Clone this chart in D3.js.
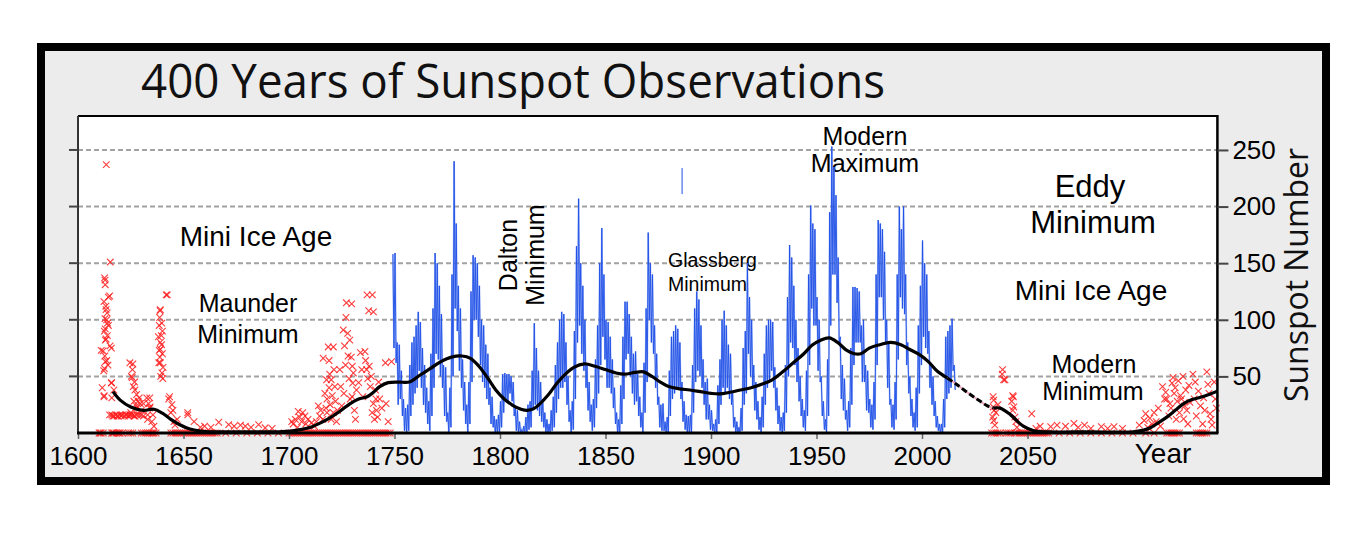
<!DOCTYPE html>
<html><head><meta charset="utf-8">
<script src="https://cdn.jsdelivr.net/npm/d3@7/dist/d3.min.js"></script>
<style>html,body{margin:0;padding:0;background:#fff;}svg{display:block;}</style>
</head><body>
<svg id="c" width="1370" height="533"></svg>
<script>
// ---------------- DATA ----------------
const xTicks = [1600,1650,1700,1750,1800,1850,1900,1950,2000,2050];
const yTicks = [50,100,150,200,250];

// Monthly sunspot record (blue) summarised per year: high and low monthly excursions, 1749-2015
const blueStartYear = 1749;
const blueHigh = [
158,159,80,78,55,30,22,25,60,80,
85,95,107,98,75,60,40,28,70,110,
159,150,130,105,60,58,18,40,140,240,
185,130,110,65,45,25,45,125,157,155,
150,130,100,95,78,70,40,32,15,12,
16,28,52,53,52,52,50,45,22,20,
10,3,6,14,25,28,55,97,75,55,
45,30,18,12,8,20,32,60,80,100,
107,105,80,50,20,28,90,165,207,150,
130,100,60,45,25,30,65,95,150,181,
140,100,98,85,65,40,18,12,42,85,
116,116,105,85,70,72,52,32,18,62,
110,177,150,140,95,70,32,25,26,10,
14,55,85,90,95,92,80,45,28,16,
15,16,60,110,125,118,95,65,45,48,
25,20,8,12,42,65,100,108,95,78,
70,35,14,10,5,22,75,90,150,120,
100,60,45,28,14,32,70,95,100,100,
98,58,40,24,14,18,60,120,166,155,
130,100,75,50,30,20,55,140,201,185,
180,120,100,50,28,12,65,195,253,235,
210,155,85,60,48,20,28,75,129,129,
128,125,95,100,60,55,30,25,45,140,
188,185,180,160,100,80,30,25,45,140,
200,180,200,140,80,50,30,18,40,95,
130,170,150,140,90,60,50,28,15,8,
8,30,85,90,95,101,60];
const blueLow = [
75,62,25,30,15,2,0,2,15,25,
35,40,55,40,25,18,8,2,15,40,
70,65,50,40,15,10,0,5,50,110,
90,55,40,20,8,0,8,45,100,100,
85,60,45,40,30,25,8,5,0,0,
0,5,18,30,28,35,28,15,2,0,
0,0,0,0,3,5,20,25,20,15,
10,5,0,0,0,2,5,18,30,40,
40,45,25,10,0,3,30,80,95,70,
55,40,20,10,2,5,22,35,60,85,
65,40,40,35,22,8,0,0,8,30,
65,70,50,35,25,28,15,5,0,18,
45,100,80,70,40,25,5,2,2,0,
0,15,30,35,40,40,30,10,3,0,
0,0,18,45,55,50,40,25,12,12,
3,2,0,0,8,25,40,35,40,30,
25,5,0,0,0,2,25,35,70,50,
40,20,12,3,0,5,25,40,45,55,
40,20,8,2,0,2,18,50,80,75,
60,45,28,15,5,2,15,60,110,95,
95,55,45,15,3,0,15,95,140,140,
115,80,30,20,12,2,5,25,60,80,
80,80,45,45,20,18,5,3,12,60,
120,120,100,80,40,25,5,3,12,65,
120,110,105,60,35,15,5,2,5,35,
60,85,75,70,40,25,15,5,2,0,
0,5,30,35,40,55,38];
// isolated stray blue segment near 1886
const strayYears = [1886.3];
const strayHigh = [234];
const strayLow = [211];

// Smoothed black curve
const smoothYears = [1616.6,1620,1625,1631,1636,1640,1644,1648,1653,1659,1670,1680,1690,1697,1704,1711,1715,1719,1724,1729,1733,1737,1740,1743,1747,1752,1757,1762,1767,1772,1777,1782,1786,1790,1794,1798,1802,1806,1810,1813,1816,1819,1823,1827,1831,1835,1840,1845,1850,1855,1859,1864,1868,1872,1876,1880,1885,1890,1895,1900,1904,1909,1914,1919,1924,1929,1934,1939,1944,1948,1952,1956,1960,1964,1968,1971,1975,1980,1985,1990,1994,1999,2003,2007,2012,2016,2021,2026,2031,2034,2037,2042,2048,2053,2060,2080,2100,2105,2108,2112,2116,2120,2124,2128,2132,2136,2140];
const smoothValues = [36.5,29,23,20,21,17.5,12,7.5,3.5,1.5,1,1,1,1.2,2.6,5.6,9,13,19,26,30,32,36,41,44.5,45,45,51,57,63,67,68,66,59,49,38,30,24.5,21,20,21.5,26,34,44,52,58,61,59,56,53,52,53.5,54,50,45,41,39,38,36.5,35,34.5,36,38,40,43,47,54,62,70,77.7,82,84,80,73.5,70,70,75,78,80,78,74,69,63,55,48.6,43.5,36.5,30,24,22,22,16,6,2,1,1,1,2.5,4.4,9,14,20,26,29.5,31.5,34,37];
const dashStart = 2012, dashEnd = 2034;

// Red crosses: reconstructed group sunspot observations (historic) [year, value]
const histCrosses = [
[1613.4,237],[1615.3,151],[1612.8,135],[1612.6,137],[1612.9,131],[1615,121],[1614.4,120],[1612.3,116],[1613.3,109],[1613.2,112],
[1613.6,100],[1612.8,101],[1614.4,95],[1614,97],[1612.5,90],[1613.3,83],[1613,82],[1615.2,77],[1615.8,75],[1611.9,72.5],
[1611,73],[1613.6,64],[1613,63],[1612.5,57],[1612.2,55],[1615.9,44.5],[1615.8,44],[1612.4,33],[1612.3,32],[1616,31],
[1613.8,106],[1612.9,92],[1613.9,86],[1612.7,68],[1614.2,60],[1611.5,40],[1617,38],
[1615,16],[1616,16],[1617,15],[1618,16],[1619,15],[1620,16],[1621,16],[1622,15],[1623,16],[1624,15],[1625,16],[1626,16],
[1627,15],[1628,16],[1629,16],[1630,16],[1631,15],[1633,16],[1616.5,15],[1618.5,15],[1620.5,15],[1622.5,16],[1624.5,16],[1626.5,15],
[1624.6,62],[1626,61],[1625.3,50],[1625.7,49],[1626.2,41],[1627,38],[1627.8,34],[1629,31],[1627.6,24],[1629.5,26],[1625,18],[1626.5,28],[1628,22],
[1625.8,56],[1626.8,45],[1628.5,28],[1630,20],[1631,26],
[1632.6,31],[1634,31],[1634.2,23],[1634,22],[1635,10],[1633,12],[1636,6],[1633.5,26],[1635.5,16],
[1638.9,108],[1639,109],[1639.7,97],[1638.5,95],[1638.1,85],[1639.5,86],[1639,74],[1638.5,73],[1640,70],[1639,62],[1638.3,62],
[1639.8,53],[1639.2,50],[1640.2,48],[1639,80],[1640,90],[1641.8,122],[1642.3,122],[1638.7,102],[1639.6,78],[1638.8,67],[1640.3,58],
[1643.4,32],[1643,30],[1645,20],[1644,18],[1645.5,10],[1646,7],[1644.5,25],[1647,12],
[1652,18],[1652,16],[1655,10],[1658,5],[1660,6],[1663,5],[1666.7,9.5],[1671.4,7.4],[1674,6],[1677,7],[1679.3,6],[1682,5],[1685.6,7.4],[1688.7,4.6],[1692,4],
[1701.3,10],[1702,8],[1703,12],[1704.4,19],[1705,14],[1706,10],[1707.6,15],[1708,8],[1709,12],[1710.7,9],[1712,6],[1713,10],[1704,5],[1706.5,18],
[1713.9,24],[1714.5,15],[1715,20],[1716.2,66],[1717,35],[1717.8,47],[1718.6,76],[1718,30],[1719,40],[1719.5,25],[1720,47],[1720.5,33],
[1721,18],[1721.7,41],[1722,28],[1716,12],[1718,18],[1720,12],[1722.5,10],[1719,64],[1721,76],[1717.5,22],[1719.3,52],[1721.3,56],[1723,20],
[1724.1,56],[1724.5,41],[1725.7,91],[1725,24],[1726,35],[1726.3,77],[1727.2,115],[1727,102],[1727.8,88],[1728,68],[1728.5,48],[1729,30],
[1729.7,114],[1729.5,67],[1730,59],[1729.9,32],[1731,20],[1731.5,12],[1730.5,53],[1732,38],[1726.8,60],[1728.8,82],[1730.2,44],
[1733,44.5],[1733.9,71],[1734.5,56],[1735,32],[1736,72],[1736.8,56],[1737,122],[1737.8,108],[1738,59],[1738.5,41],[1739.4,18],[1739.5,122],
[1740,107],[1740,26],[1740.5,12],[1741,38],[1741.5,20],[1742,14],[1743,30],[1744,22],[1745.7,62],[1746,26],[1747,10],[1748.6,63],[1742.5,45],
[1736.3,64],[1737.3,48],[1739,50],[1741.2,30]];
const histZeroYears = [1610,1610.5,1611,1612,1616,1616.5,1617,1618,1619,1619.5,1620,1621,1624,1625,1626,1630,1631,1632,1633,1634,1635,1635.5,1636,1637,
1644,1645,1646,1647,1648,1649,1650,1651,1652,1653,1654,1655,1656,1657,1658,1659,1660,1661,1662,1663,1664,1665,1666,
1670,1675,1680,1685,1690,1695,1700,1701,1702,1703,1704,1705,1706,1707,1708,1709,1710,1711,1712,1713,1714,1715,1716,1717,1718,1719,1720,
1721,1722,1723,1724,1725,1726,1727,1728,1729,1730,1731,1732,1733,1734,1735,1736,1737,1738,1739,1740,1741,1742,1743,1744,1745,1746,1747,1748];

// Red crosses: projected future record [year, value]
const futureCrosses = [
[2038.2,56],[2038.7,47],[2039.3,47],[2038,52],[2033.7,32],[2034,29],[2033.8,23],[2034.2,20],[2033.5,14],[2034,11],[2034.5,7],[2035,18],[2036,25],
[2043,33],[2043.3,32],[2043.5,23],[2043,20],[2044,14],[2044.5,10],[2042.5,28],[2045,5],
[2052,17],[2054,4],[2056,6],[2061,5.6],[2064,7],[2068,6],[2072,8.5],[2074,5],[2077,7],[2080,4],[2085,5.6],[2088,4],[2091,5.6],[2095,4],
[2103,7],[2105.3,11],[2106,17],[2107,5],[2108,13],[2109,8],[2110,18],[2111,10],[2112,22],[2113,6],
[2114,41],[2115,30],[2116,30],[2117,15],[2118,22],[2119,49],[2119.5,35],[2120,40],[2120.5,12],[2121,28],[2122,18],[2123.7,50],[2123,30],
[2124,12.5],[2125,38],[2125.5,20],[2126,8],[2127,27],[2128.4,52],[2129,30],[2130,15],[2131,37],[2132,24],[2133,8],[2135,54],[2135.5,43],
[2136,35],[2136.5,17],[2137,12],[2137.5,7],[2138.5,45],[2139,30],[2139.5,22],[2134,20],
[2115.5,36],[2117.5,26],[2118.5,44],[2121.5,46],[2122.5,33],[2124.5,24],[2126.5,42],[2129.5,45],[2133.5,31]];
const futureZeroYears = [2033,2034,2035,2036,2037,2040,2041,2042,2044,2045,2046,2047,2048,2049,2050,2051,2052,2053,2054,2055,2056,2057,2058,2059,2060,
2065,2070,2075,2080,2085,2090,2095,2100,2106,2110,2116,2117,2118,2119,2120,2121,2122,2130,2131,2132,2133,2134,2135];

// Text annotations
const labels = [
  {t:"Mini Ice Age", x:256, y:246, s:28, a:"middle"},
  {t:"Maunder", x:248, y:312, s:25, a:"middle"},
  {t:"Minimum", x:248, y:343, s:25, a:"middle"},
  {t:"Glassberg", x:668, y:267, s:19.5, a:"start"},
  {t:"Minimum", x:668, y:291, s:19.5, a:"start"},
  {t:"Modern", x:865, y:145, s:25, a:"middle"},
  {t:"Maximum", x:865, y:172, s:25, a:"middle"},
  {t:"Eddy", x:1090, y:197, s:31, a:"middle"},
  {t:"Minimum", x:1093, y:233, s:31, a:"middle"},
  {t:"Mini Ice Age", x:1091, y:300, s:28, a:"middle"},
  {t:"Modern", x:1094, y:373, s:25, a:"middle"},
  {t:"Minimum", x:1093, y:400, s:25, a:"middle"}
];
const rotLabels = [
  {t:"Dalton", x:517, y:255, s:25},
  {t:"Minimum", x:544, y:255, s:25}
];

// ---------------- DRAW ----------------
const svg = d3.select("#c");
const L = 78, R = 1217.4, T = 116, B = 433;
const x = d3.scaleLinear().domain([1600, 2140]).range([L, R]);
const y = d3.scaleLinear().domain([0, 280]).range([B, T]);
const sans = "'Liberation Sans', Arial, sans-serif";
const open = "'Open Sans', 'Noto Sans', sans-serif";

// frame
svg.append("rect").attr("x",41).attr("y",47).attr("width",1285).attr("height",434)
  .attr("fill","#ececec").attr("stroke","#000").attr("stroke-width",8);
svg.append("rect").attr("x",L).attr("y",T).attr("width",R-L).attr("height",B-T).attr("fill","#fff");

// title
svg.append("text").attr("x",141).attr("y",98).attr("font-family",open).attr("font-size",47)
  .attr("textLength",744).attr("lengthAdjust","spacingAndGlyphs").attr("fill","#111")
  .text("400 Years of Sunspot Observations");

// grid
svg.append("g").selectAll("line").data(yTicks).join("line")
  .attr("x1",L).attr("x2",R).attr("y1",d=>y(d)).attr("y2",d=>y(d))
  .attr("stroke","#a2a2a2").attr("stroke-width",2).attr("stroke-dasharray","5,3");

// labels (under data)
const lg = svg.append("g").attr("font-family",sans).attr("fill","#000");
lg.selectAll("text.l").data(labels).join("text").attr("class","l")
  .attr("x",d=>d.x).attr("y",d=>d.y).attr("font-size",d=>d.s).attr("text-anchor",d=>d.a).text(d=>d.t);
lg.selectAll("text.r").data(rotLabels).join("text").attr("class","r")
  .attr("transform",d=>`translate(${d.x},${d.y}) rotate(-90)`).attr("font-size",d=>d.s)
  .attr("text-anchor","middle").text(d=>d.t);

// red crosses
const crossPath = "M-3.3,-3.3L3.3,3.3M-3.3,3.3L3.3,-3.3";
const allCross = histCrosses.concat(futureCrosses)
  .concat(histZeroYears.map(v=>[v,0])).concat(futureZeroYears.map(v=>[v,0]));
svg.append("g").selectAll("path").data(allCross).join("path")
  .attr("d",crossPath).attr("transform",d=>`translate(${x(d[0])},${y(d[1])})`)
  .attr("fill","none").attr("stroke","#ff1a1a").attr("stroke-width",1.1).attr("opacity",0.85);

// blue monthly record
const bluePts = [];
blueHigh.forEach((h,i)=>{ const yr = blueStartYear + i; bluePts.push([yr+0.25,h]); bluePts.push([yr+0.75,blueLow[i]]); });
const line = d3.line().x(d=>x(d[0])).y(d=>y(d[1]));
svg.append("path").datum(bluePts).attr("d",line).attr("fill","none")
  .attr("stroke","#7c9cf2").attr("stroke-width",1.8).attr("stroke-opacity",0.6);
svg.append("path").datum(bluePts).attr("d",line).attr("fill","none")
  .attr("stroke","#1f4fe6").attr("stroke-width",0.9);
svg.append("g").selectAll("line").data(strayYears).join("line")
  .attr("x1",d=>x(d)).attr("x2",d=>x(d)).attr("y1",(d,i)=>y(strayHigh[i])).attr("y2",(d,i)=>y(strayLow[i]))
  .attr("stroke","#1f4fe6").attr("stroke-width",1);

// smoothed curve
const sm = smoothYears.map((yr,i)=>[yr,smoothValues[i]]);
const sline = d3.line().x(d=>x(d[0])).y(d=>y(d[1])).curve(d3.curveCatmullRom.alpha(0.5));
const partA = sm.filter(d=>d[0]<=dashStart), partD = sm.filter(d=>d[0]>=dashStart && d[0]<=dashEnd), partB = sm.filter(d=>d[0]>=dashEnd);
svg.append("path").datum(partA).attr("d",sline).attr("fill","none").attr("stroke","#000").attr("stroke-width",3.2);
svg.append("path").datum(partD).attr("d",sline).attr("fill","none").attr("stroke","#f2a9bd").attr("stroke-width",2);
svg.append("path").datum(partD).attr("d",sline).attr("fill","none").attr("stroke","#000").attr("stroke-width",3).attr("stroke-dasharray","6,3");
svg.append("path").datum(partB).attr("d",sline).attr("fill","none").attr("stroke","#000").attr("stroke-width",3.2);

// plot borders
svg.append("line").attr("x1",L).attr("x2",R).attr("y1",T).attr("y2",T).attr("stroke","#000").attr("stroke-width",2);
svg.append("line").attr("x1",L).attr("x2",L).attr("y1",T).attr("y2",B).attr("stroke","#333").attr("stroke-width",2);
svg.append("line").attr("x1",R).attr("x2",R).attr("y1",T-1).attr("y2",B).attr("stroke","#000").attr("stroke-width",2.5);

// left ticks (no labels)
svg.append("g").selectAll("line").data(yTicks).join("line")
  .attr("x1",L-9).attr("x2",L).attr("y1",d=>y(d)).attr("y2",d=>y(d)).attr("stroke","#444").attr("stroke-width",2);

// right axis
const ra = svg.append("g").attr("transform",`translate(${R},0)`)
  .call(d3.axisRight(y).tickValues(yTicks).tickSize(11).tickPadding(4).tickFormat(d3.format("d")));
ra.select(".domain").remove();
ra.selectAll(".tick line").attr("stroke","#444").attr("stroke-width",2);
ra.selectAll(".tick text").attr("font-family",sans).attr("font-size",26).attr("fill","#000");

// bottom axis
const ba = svg.append("g").attr("transform",`translate(0,${B})`)
  .call(d3.axisBottom(x).tickValues(xTicks).tickSize(6).tickPadding(8).tickFormat(d3.format("d")));
ba.select(".domain").remove();
ba.selectAll(".tick line").attr("stroke","#666").attr("stroke-width",1.5);
ba.selectAll(".tick text").attr("font-family",sans).attr("font-size",26).attr("fill","#000");
svg.append("line").attr("x1",L-1).attr("x2",R+1).attr("y1",B).attr("y2",B).attr("stroke","#000").attr("stroke-width",3);

svg.append("text").attr("x",1163).attr("y",463).attr("text-anchor","middle").attr("font-family",sans)
  .attr("font-size",28).attr("fill","#000").text("Year");
svg.append("text").attr("transform","translate(1308,275) rotate(-90)").attr("text-anchor","middle")
  .attr("font-family",open).attr("font-size",32).attr("textLength",254).attr("lengthAdjust","spacingAndGlyphs")
  .attr("fill","#111").text("Sunspot Number");
</script>
</body></html>
